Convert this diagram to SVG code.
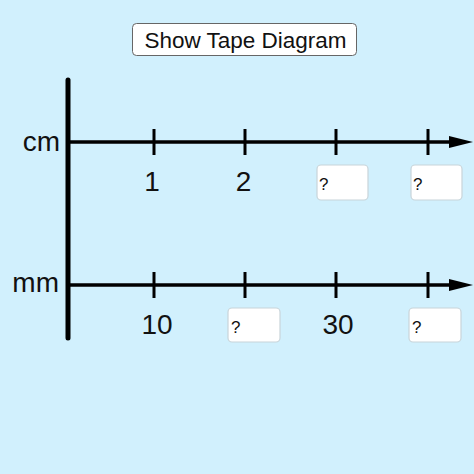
<svg xmlns="http://www.w3.org/2000/svg" width="474" height="474" viewBox="0 0 474 474">
<style>
.lbl{font-family:"Liberation Sans",Arial,sans-serif;font-size:28px;fill:#111}
.q{font-family:"Liberation Sans",Arial,sans-serif;font-size:17px;fill:#111}
.box{fill:#fff;stroke:#c8d4da;stroke-width:1.2}
.axis{stroke:#000;stroke-width:3.5}
.tick{stroke:#000;stroke-width:3}
</style>
<defs>
<marker id="ah" markerWidth="24" markerHeight="12" refX="0" refY="6" orient="auto" markerUnits="userSpaceOnUse">
<path d="M0,0 L24,6 L0,12 Z" fill="#000"/>
</marker>
</defs>
<rect width="474" height="474" fill="#d1f0fd"/>
<g id="button">
<rect x="132.5" y="23.5" width="224" height="32" rx="4" fill="#fff" stroke="#666" stroke-width="1"/>
<text x="245.5" y="48" text-anchor="middle" font-family="'Liberation Sans',Arial,sans-serif" font-size="22.5" fill="#111">Show Tape Diagram</text>
</g>
<g id="connectors">
<line x1="68" y1="80" x2="68" y2="338" stroke="#000" stroke-width="5" stroke-linecap="round"/>
<line class="axis" x1="68" y1="142" x2="449" y2="142" marker-end="url(#ah)"/>
<line class="axis" x1="68" y1="285" x2="449" y2="285" marker-end="url(#ah)"/>
<line class="tick" x1="154" y1="129" x2="154" y2="155"/>
<line class="tick" x1="245" y1="129" x2="245" y2="155"/>
<line class="tick" x1="336" y1="129" x2="336" y2="155"/>
<line class="tick" x1="428" y1="129" x2="428" y2="155"/>
<line class="tick" x1="154" y1="272" x2="154" y2="298"/>
<line class="tick" x1="245" y1="272" x2="245" y2="298"/>
<line class="tick" x1="336" y1="272" x2="336" y2="298"/>
<line class="tick" x1="428" y1="272" x2="428" y2="298"/>
</g>
<g id="cm-row">
<text class="lbl" x="60" y="151" text-anchor="end">cm</text>
<text class="lbl" x="152" y="191" text-anchor="middle">1</text>
<text class="lbl" x="243.5" y="191" text-anchor="middle">2</text>
<rect class="box" x="317" y="165" width="51" height="35" rx="4"/>
<text class="q" x="319" y="190">?</text>
<rect class="box" x="411" y="165" width="51" height="35" rx="4"/>
<text class="q" x="413" y="190">?</text>
</g>
<g id="mm-row">
<text class="lbl" x="59" y="292" text-anchor="end">mm</text>
<text class="lbl" x="157" y="334" text-anchor="middle">10</text>
<rect class="box" x="228" y="308" width="52" height="34" rx="4"/>
<text class="q" x="231" y="333">?</text>
<text class="lbl" x="338" y="334" text-anchor="middle">30</text>
<rect class="box" x="409" y="308" width="52" height="34" rx="4"/>
<text class="q" x="412" y="333">?</text>
</g>
</svg>
